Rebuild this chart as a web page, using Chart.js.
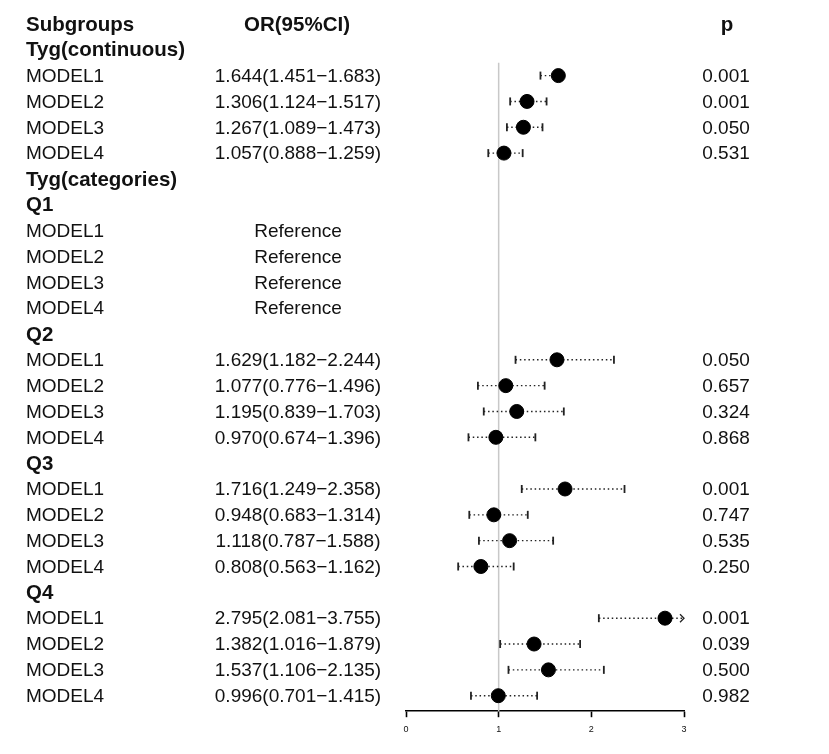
<!DOCTYPE html>
<html lang="en">
<head>
    <meta charset="UTF-8">
    <title>Forest plot</title>
    <style>
        html, body {
            margin: 0;
            padding: 0;
            background: #ffffff;
        }
        #chartBox {
            width: 829px;
            height: 754px;
        }
    </style>
</head>
<body>
    <div id="chartBox">
        <canvas id="forestCanvas" width="829" height="754"></canvas>
    </div>

    <script src="https://cdn.jsdelivr.net/npm/chart.js"></script>
    <script>
        // rows below the header line, top to bottom
        const subgroups = [
            'Tyg(continuous)', 'MODEL1', 'MODEL2', 'MODEL3', 'MODEL4',
            'Tyg(categories)',
            'Q1', 'MODEL1', 'MODEL2', 'MODEL3', 'MODEL4',
            'Q2', 'MODEL1', 'MODEL2', 'MODEL3', 'MODEL4',
            'Q3', 'MODEL1', 'MODEL2', 'MODEL3', 'MODEL4',
            'Q4', 'MODEL1', 'MODEL2', 'MODEL3', 'MODEL4'
        ];
        const headingRows = ['Tyg(continuous)', 'Tyg(categories)', 'Q1', 'Q2', 'Q3', 'Q4'];
        const referenceRows = [7, 8, 9, 10];

        const orValues = [
            null, 1.644, 1.306, 1.267, 1.057,
            null,
            null, null, null, null, null,
            null, 1.629, 1.077, 1.195, 0.970,
            null, 1.716, 0.948, 1.118, 0.808,
            null, 2.795, 1.382, 1.537, 0.996
        ];
        const ciLower = [
            null, 1.451, 1.124, 1.089, 0.888,
            null,
            null, null, null, null, null,
            null, 1.182, 0.776, 0.839, 0.674,
            null, 1.249, 0.683, 0.787, 0.563,
            null, 2.081, 1.016, 1.106, 0.701
        ];
        const ciUpper = [
            null, 1.683, 1.517, 1.473, 1.259,
            null,
            null, null, null, null, null,
            null, 2.244, 1.496, 1.703, 1.396,
            null, 2.358, 1.314, 1.588, 1.162,
            null, 3.755, 1.879, 2.135, 1.415
        ];
        const pValues = [
            '', '0.001', '0.001', '0.050', '0.531',
            '',
            '', '', '', '', '',
            '', '0.050', '0.657', '0.324', '0.868',
            '', '0.001', '0.747', '0.535', '0.250',
            '', '0.001', '0.039', '0.500', '0.982'
        ];
        const xTicks = [0, 1, 2, 3];
        const columnTitles = ['Subgroups', 'OR(95%CI)', 'p'];

        const FONT = '"Liberation Sans", Arial, sans-serif';
        const X_MAX = xTicks[xTicks.length - 1];

        // row 0 is the header line, data rows start at 1
        const points = [];
        orValues.forEach((v, i) => {
            if (v !== null) points.push({ x: v, y: i + 1 });
        });

        function orLabel(i) {
            if (referenceRows.includes(i)) return 'Reference';
            if (orValues[i] === null) return '';
            return orValues[i].toFixed(3) + '(' + ciLower[i].toFixed(3) + '\u2212' + ciUpper[i].toFixed(3) + ')';
        }

        // whiskers + reference line, drawn under the points
        const whiskerPlugin = {
            id: 'whiskers',
            beforeDatasetsDraw(chart) {
                const { ctx, scales: { x, y } } = chart;
                ctx.save();

                // reference line at OR = 1
                ctx.strokeStyle = '#c8c8c8';
                ctx.lineWidth = 1.5;
                ctx.beginPath();
                ctx.moveTo(x.getPixelForValue(1), y.getPixelForValue(1.5));
                ctx.lineTo(x.getPixelForValue(1), chart.chartArea.bottom);
                ctx.stroke();

                orValues.forEach((v, i) => {
                    if (v === null) return;
                    const py = y.getPixelForValue(i + 1);
                    const x0 = x.getPixelForValue(ciLower[i]);
                    const clipped = ciUpper[i] > X_MAX;
                    const x1 = x.getPixelForValue(Math.min(ciUpper[i], X_MAX));

                    ctx.strokeStyle = '#222';
                    ctx.lineWidth = 1.4;
                    ctx.setLineDash([1.5, 2.8]);
                    ctx.beginPath();
                    ctx.moveTo(x0, py);
                    ctx.lineTo(x1, py);
                    ctx.stroke();
                    ctx.setLineDash([]);

                    ctx.lineWidth = 1.8;
                    ctx.beginPath();
                    ctx.moveTo(x0, py - 4);
                    ctx.lineTo(x0, py + 4);
                    ctx.stroke();
                    ctx.beginPath();
                    if (clipped) {
                        ctx.lineWidth = 1.3;
                        ctx.moveTo(x1 - 4, py - 4);
                        ctx.lineTo(x1, py);
                        ctx.lineTo(x1 - 4, py + 4);
                    } else {
                        ctx.moveTo(x1, py - 4);
                        ctx.lineTo(x1, py + 4);
                    }
                    ctx.stroke();
                });
                ctx.restore();
            }
        };

        // table text: subgroup names, OR column, p column
        const tablePlugin = {
            id: 'tableText',
            afterDraw(chart) {
                const { ctx, scales: { y } } = chart;
                ctx.save();
                ctx.fillStyle = '#111';
                ctx.textBaseline = 'middle';

                const headY = y.getPixelForValue(0) + 1;
                ctx.font = 'bold 20.5px ' + FONT;
                ctx.textAlign = 'left';
                ctx.fillText(columnTitles[0], 26, headY);
                ctx.textAlign = 'center';
                ctx.fillText(columnTitles[1], 297, headY);
                ctx.fillText(columnTitles[2], 727, headY);

                subgroups.forEach((name, i) => {
                    const py = y.getPixelForValue(i + 1) + 1;
                    const heading = headingRows.includes(name);
                    ctx.font = (heading ? 'bold 20.5px ' : '19px ') + FONT;
                    ctx.textAlign = 'left';
                    ctx.fillText(name, 26, py);
                    if (heading) return;
                    ctx.font = '19px ' + FONT;
                    ctx.textAlign = 'center';
                    ctx.fillText(orLabel(i), 298, py);
                    ctx.fillText(pValues[i], 726, py);
                });
                ctx.restore();
            }
        };

        const ctx = document.getElementById('forestCanvas').getContext('2d');
        const forestChart = new Chart(ctx, {
            type: 'scatter',
            data: {
                datasets: [{
                    label: 'OR',
                    data: points,
                    backgroundColor: '#000',
                    borderColor: '#000',
                    pointRadius: 7,
                    pointHoverRadius: 7
                }]
            },
            options: {
                responsive: false,
                animation: false,
                devicePixelRatio: 1,
                layout: {
                    padding: { left: 406, right: 145, top: 11, bottom: 12 }
                },
                plugins: {
                    legend: { display: false },
                    tooltip: { enabled: false }
                },
                scales: {
                    x: {
                        type: 'linear',
                        min: 0,
                        max: X_MAX,
                        afterBuildTicks: (axis) => {
                            axis.ticks = xTicks.map(v => ({ value: v }));
                        },
                        border: { display: true, color: '#000', width: 1.6 },
                        grid: {
                            drawOnChartArea: false,
                            drawTicks: true,
                            tickLength: 6,
                            tickWidth: 1.6,
                            tickColor: '#000'
                        },
                        ticks: {
                            color: '#111',
                            padding: 7,
                            maxRotation: 0,
                            font: { family: FONT, size: 9 }
                        }
                    },
                    y: {
                        type: 'linear',
                        display: false,
                        reverse: true,
                        min: -0.5,
                        max: subgroups.length + 0.6
                    }
                }
            },
            plugins: [whiskerPlugin, tablePlugin]
        });
    </script>
</body>
</html>
